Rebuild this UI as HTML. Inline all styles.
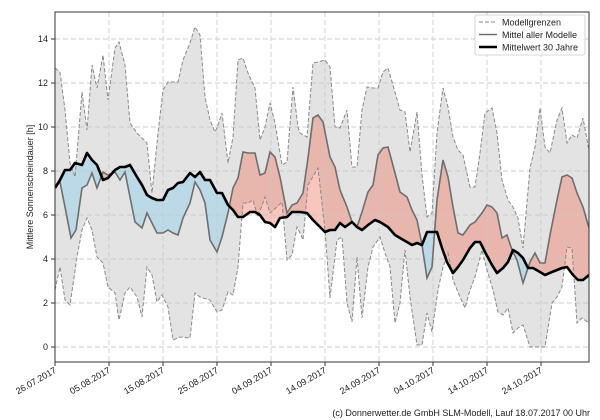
<!DOCTYPE html>
<html><head><meta charset="utf-8"><style>
html,body{margin:0;padding:0;background:#fff;width:600px;height:420px;overflow:hidden}
svg{display:block;font-family:"Liberation Sans","DejaVu Sans",sans-serif}
</style></head><body>
<svg width="600" height="420" viewBox="0 0 600 420" xmlns="http://www.w3.org/2000/svg">
<defs>
<clipPath id="plot"><rect x="55" y="12" width="534" height="350"/></clipPath>
<clipPath id="above"><polygon points="55,0 55,188 60,180 65,170 70,170 75,163 82,165 87,153 92,160 97,165 103,180 108,178 115,170 120,167 125,167 130,165 137,177 142,185 147,195 152,198 157,200 163,200 168,190 173,188 178,183 183,182 190,173 195,177 200,172 205,180 210,180 217,193 222,193 228,205 233,210 238,217 243,217 250,212 255,212 260,215 265,222 270,223 275,227 280,218 287,217 292,212 300,212 307,213 313,220 318,225 325,232 330,230 335,230 340,223 345,227 352,222 357,227 362,230 368,225 375,220 380,222 388,227 395,235 400,238 407,242 412,245 417,243 422,245 427,232 432,232 437,232 442,248 447,262 453,273 458,267 463,260 470,248 475,242 480,242 485,252 492,265 497,273 503,268 508,262 513,250 518,253 523,258 528,268 533,268 540,272 545,275 552,272 557,270 562,268 567,267 573,275 578,280 583,280 589,275 589,0"/></clipPath>
<clipPath id="below"><polygon points="55,420 55,188 60,180 65,170 70,170 75,163 82,165 87,153 92,160 97,165 103,180 108,178 115,170 120,167 125,167 130,165 137,177 142,185 147,195 152,198 157,200 163,200 168,190 173,188 178,183 183,182 190,173 195,177 200,172 205,180 210,180 217,193 222,193 228,205 233,210 238,217 243,217 250,212 255,212 260,215 265,222 270,223 275,227 280,218 287,217 292,212 300,212 307,213 313,220 318,225 325,232 330,230 335,230 340,223 345,227 352,222 357,227 362,230 368,225 375,220 380,222 388,227 395,235 400,238 407,242 412,245 417,243 422,245 427,232 432,232 437,232 442,248 447,262 453,273 458,267 463,260 470,248 475,242 480,242 485,252 492,265 497,273 503,268 508,262 513,250 518,253 523,258 528,268 533,268 540,272 545,275 552,272 557,270 562,268 567,267 573,275 578,280 583,280 589,275 589,420"/></clipPath>
</defs>
<g clip-path="url(#plot)">
<polygon fill="#e3e3e3" points="55,68 60,72 65,110 70,163 75,177 82,92 87,130 92,65 97,88 103,55 108,100 115,48 119,42 125,65 130,123 137,133 147,143 152,193 158,133 163,90 168,82 178,82 183,60 190,43 195,27 200,35 205,97 210,120 215,132 217,128 222,113 228,163 233,137 238,60 243,58 248,73 255,88 260,140 265,127 270,103 275,123 282,165 287,162 293,87 298,127 300,133 307,137 313,63 318,62 325,60 330,67 335,127 340,128 347,110 352,167 357,167 362,110 367,87 373,88 378,88 383,72 388,68 393,85 400,110 405,112 410,152 417,112 422,175 427,217 432,213 437,133 443,88 448,107 453,137 458,150 463,155 470,187 475,187 480,153 485,113 492,108 497,133 502,180 508,200 513,207 518,218 523,248 530,168 535,147 540,108 545,147 550,153 557,120 562,108 567,143 572,135 577,138 583,118 589,150 589,323 582,318 577,323 572,248 567,247 562,287 557,297 552,303 545,347 530,347 523,325 518,328 513,333 508,308 503,315 498,312 493,290 487,270 482,250 475,277 470,290 465,308 460,297 453,280 448,253 443,267 438,290 432,332 427,313 422,345 417,345 410,297 405,250 400,303 395,323 390,267 385,253 380,237 373,247 368,267 362,318 357,257 352,322 347,303 342,237 337,240 330,298 325,230 318,168 308,185 303,240 300,233 297,227 292,255 287,260 282,202 277,207 270,213 265,197 258,217 253,200 248,203 243,203 238,267 233,295 228,292 222,310 217,312 210,300 200,297 195,293 190,338 180,337 173,340 168,307 162,295 157,302 152,275 147,267 142,317 137,297 130,287 125,293 119,320 115,293 108,287 103,263 97,257 92,230 87,218 82,230 77,257 70,305 65,300 60,267 55,290"/>
<polygon clip-path="url(#above)" fill="rgba(240,120,100,0.42)" points="55,187 60,182 65,207 71,238 76,230 82,188 87,185 92,173 97,188 103,172 108,175 115,172 120,180 125,172 130,197 135,222 142,228 147,213 152,223 157,233 163,233 168,230 173,233 178,235 183,218 190,203 195,182 200,190 205,203 210,240 217,252 222,237 228,213 233,188 238,178 243,152 248,153 255,153 260,175 265,173 270,152 275,157 280,177 287,213 292,205 297,203 300,198 303,193 308,158 313,118 318,115 323,122 330,157 335,167 340,190 347,207 352,222 357,227 362,212 368,192 373,185 378,155 383,148 388,147 395,173 400,192 407,197 412,210 417,220 422,245 427,278 432,267 437,200 443,160 448,177 453,207 458,233 463,235 470,225 475,222 482,213 487,205 492,207 497,213 502,238 507,235 512,250 517,260 523,283 530,262 535,253 540,263 545,263 550,235 557,200 562,177 567,175 572,178 577,193 583,207 589,228 589,420 55,420"/>
<polygon clip-path="url(#below)" fill="rgba(160,210,232,0.6)" points="55,187 60,182 65,207 71,238 76,230 82,188 87,185 92,173 97,188 103,172 108,175 115,172 120,180 125,172 130,197 135,222 142,228 147,213 152,223 157,233 163,233 168,230 173,233 178,235 183,218 190,203 195,182 200,190 205,203 210,240 217,252 222,237 228,213 233,188 238,178 243,152 248,153 255,153 260,175 265,173 270,152 275,157 280,177 287,213 292,205 297,203 300,198 303,193 308,158 313,118 318,115 323,122 330,157 335,167 340,190 347,207 352,222 357,227 362,212 368,192 373,185 378,155 383,148 388,147 395,173 400,192 407,197 412,210 417,220 422,245 427,278 432,267 437,200 443,160 448,177 453,207 458,233 463,235 470,225 475,222 482,213 487,205 492,207 497,213 502,238 507,235 512,250 517,260 523,283 530,262 535,253 540,263 545,263 550,235 557,200 562,177 567,175 572,178 577,193 583,207 589,228 589,0 55,0"/>
<g stroke="#c8c8c8" stroke-width="0.9" stroke-dasharray="5,3" opacity="0.9">
<line x1="55" x2="589" y1="347" y2="347"/><line x1="55" x2="589" y1="303" y2="303"/><line x1="55" x2="589" y1="259" y2="259"/><line x1="55" x2="589" y1="215" y2="215"/><line x1="55" x2="589" y1="171" y2="171"/><line x1="55" x2="589" y1="127" y2="127"/><line x1="55" x2="589" y1="83" y2="83"/><line x1="55" x2="589" y1="39" y2="39"/>
<line x1="109" x2="109" y1="12" y2="362"/><line x1="163" x2="163" y1="12" y2="362"/><line x1="217" x2="217" y1="12" y2="362"/><line x1="271" x2="271" y1="12" y2="362"/><line x1="325" x2="325" y1="12" y2="362"/><line x1="379" x2="379" y1="12" y2="362"/><line x1="433" x2="433" y1="12" y2="362"/><line x1="487" x2="487" y1="12" y2="362"/><line x1="541" x2="541" y1="12" y2="362"/>
</g>
<polyline fill="none" stroke="#8a8a8a" stroke-width="1" stroke-dasharray="4,2" points="55,68 60,72 65,110 70,163 75,177 82,92 87,130 92,65 97,88 103,55 108,100 115,48 119,42 125,65 130,123 137,133 147,143 152,193 158,133 163,90 168,82 178,82 183,60 190,43 195,27 200,35 205,97 210,120 215,132 217,128 222,113 228,163 233,137 238,60 243,58 248,73 255,88 260,140 265,127 270,103 275,123 282,165 287,162 293,87 298,127 300,133 307,137 313,63 318,62 325,60 330,67 335,127 340,128 347,110 352,167 357,167 362,110 367,87 373,88 378,88 383,72 388,68 393,85 400,110 405,112 410,152 417,112 422,175 427,217 432,213 437,133 443,88 448,107 453,137 458,150 463,155 470,187 475,187 480,153 485,113 492,108 497,133 502,180 508,200 513,207 518,218 523,248 530,168 535,147 540,108 545,147 550,153 557,120 562,108 567,143 572,135 577,138 583,118 589,150"/>
<polyline fill="none" stroke="#8a8a8a" stroke-width="1" stroke-dasharray="4,2" points="55,290 60,267 65,300 70,305 77,257 82,230 87,218 92,230 97,257 103,263 108,287 115,293 119,320 125,293 130,287 137,297 142,317 147,267 152,275 157,302 162,295 168,307 173,340 180,337 190,338 195,293 200,297 210,300 217,312 222,310 228,292 233,295 238,267 243,203 248,203 253,200 258,217 265,197 270,213 277,207 282,202 287,260 292,255 297,227 300,233 303,240 308,185 318,168 325,230 330,298 337,240 342,237 347,303 352,322 357,257 362,318 368,267 373,247 380,237 385,253 390,267 395,323 400,303 405,250 410,297 417,345 422,345 427,313 432,332 438,290 443,267 448,253 453,280 460,297 465,308 470,290 475,277 482,250 487,270 493,290 498,312 503,315 508,308 513,333 518,328 523,325 530,347 545,347 552,303 557,297 562,287 567,247 572,248 577,323 582,318 589,323"/>
<polyline fill="none" stroke="#6e6e6e" stroke-width="1.6" points="55,187 60,182 65,207 71,238 76,230 82,188 87,185 92,173 97,188 103,172 108,175 115,172 120,180 125,172 130,197 135,222 142,228 147,213 152,223 157,233 163,233 168,230 173,233 178,235 183,218 190,203 195,182 200,190 205,203 210,240 217,252 222,237 228,213 233,188 238,178 243,152 248,153 255,153 260,175 265,173 270,152 275,157 280,177 287,213 292,205 297,203 300,198 303,193 308,158 313,118 318,115 323,122 330,157 335,167 340,190 347,207 352,222 357,227 362,212 368,192 373,185 378,155 383,148 388,147 395,173 400,192 407,197 412,210 417,220 422,245 427,278 432,267 437,200 443,160 448,177 453,207 458,233 463,235 470,225 475,222 482,213 487,205 492,207 497,213 502,238 507,235 512,250 517,260 523,283 530,262 535,253 540,263 545,263 550,235 557,200 562,177 567,175 572,178 577,193 583,207 589,228"/>
<polyline fill="none" stroke="#000" stroke-width="2.6" stroke-linejoin="round" points="55,188 60,180 65,170 70,170 75,163 82,165 87,153 92,160 97,165 103,180 108,178 115,170 120,167 125,167 130,165 137,177 142,185 147,195 152,198 157,200 163,200 168,190 173,188 178,183 183,182 190,173 195,177 200,172 205,180 210,180 217,193 222,193 228,205 233,210 238,217 243,217 250,212 255,212 260,215 265,222 270,223 275,227 280,218 287,217 292,212 300,212 307,213 313,220 318,225 325,232 330,230 335,230 340,223 345,227 352,222 357,227 362,230 368,225 375,220 380,222 388,227 395,235 400,238 407,242 412,245 417,243 422,245 427,232 432,232 437,232 442,248 447,262 453,273 458,267 463,260 470,248 475,242 480,242 485,252 492,265 497,273 503,268 508,262 513,250 518,253 523,258 528,268 533,268 540,272 545,275 552,272 557,270 562,268 567,267 573,275 578,280 583,280 589,275"/>
</g>
<rect x="55" y="12" width="534" height="350" fill="none" stroke="#333" stroke-width="1"/>
<g stroke="#333" stroke-width="1">
<line x1="51" x2="55" y1="347" y2="347"/><line x1="51" x2="55" y1="303" y2="303"/><line x1="51" x2="55" y1="259" y2="259"/><line x1="51" x2="55" y1="215" y2="215"/><line x1="51" x2="55" y1="171" y2="171"/><line x1="51" x2="55" y1="127" y2="127"/><line x1="51" x2="55" y1="83" y2="83"/><line x1="51" x2="55" y1="39" y2="39"/>
<line x1="55" x2="55" y1="362" y2="366"/><line x1="109" x2="109" y1="362" y2="366"/><line x1="163" x2="163" y1="362" y2="366"/><line x1="217" x2="217" y1="362" y2="366"/><line x1="271" x2="271" y1="362" y2="366"/><line x1="325" x2="325" y1="362" y2="366"/><line x1="379" x2="379" y1="362" y2="366"/><line x1="433" x2="433" y1="362" y2="366"/><line x1="487" x2="487" y1="362" y2="366"/><line x1="541" x2="541" y1="362" y2="366"/>
</g>
<g font-size="9" fill="#222" text-anchor="end">
<text x="48" y="350">0</text><text x="48" y="306">2</text><text x="48" y="262">4</text><text x="48" y="218">6</text><text x="48" y="174">8</text><text x="48" y="130">10</text><text x="48" y="86">12</text><text x="48" y="42">14</text>
</g>
<g font-size="9" fill="#222" text-anchor="end">
<text transform="translate(57,372) rotate(-30)">26.07.2017</text>
<text transform="translate(111,372) rotate(-30)">05.08.2017</text>
<text transform="translate(165,372) rotate(-30)">15.08.2017</text>
<text transform="translate(219,372) rotate(-30)">25.08.2017</text>
<text transform="translate(273,372) rotate(-30)">04.09.2017</text>
<text transform="translate(327,372) rotate(-30)">14.09.2017</text>
<text transform="translate(381,372) rotate(-30)">24.09.2017</text>
<text transform="translate(435,372) rotate(-30)">04.10.2017</text>
<text transform="translate(489,372) rotate(-30)">14.10.2017</text>
<text transform="translate(543,372) rotate(-30)">24.10.2017</text>
</g>
<text transform="translate(33,187) rotate(-90)" font-size="9" fill="#222" text-anchor="middle">Mittlere Sonnenscheindauer [h]</text>
<rect x="475" y="15" width="110" height="40" rx="2" fill="#fff" fill-opacity="0.85" stroke="#ccc" stroke-width="0.8"/>
<line x1="479" x2="497" y1="22" y2="22" stroke="#8a8a8a" stroke-width="1" stroke-dasharray="4,2"/>
<line x1="479" x2="497" y1="34.5" y2="34.5" stroke="#6e6e6e" stroke-width="1.6"/>
<line x1="479" x2="497" y1="47" y2="47" stroke="#000" stroke-width="2.6"/>
<g font-size="9" fill="#222">
<text x="502" y="25.5">Modellgrenzen</text>
<text x="502" y="38">Mittel aller Modelle</text>
<text x="502" y="50.5">Mittelwert 30 Jahre</text>
</g>
<text x="590" y="416" font-size="9" fill="#222" text-anchor="end">(c) Donnerwetter.de GmbH SLM-Modell, Lauf 18.07.2017 00 Uhr</text>
</svg>
</body></html>
